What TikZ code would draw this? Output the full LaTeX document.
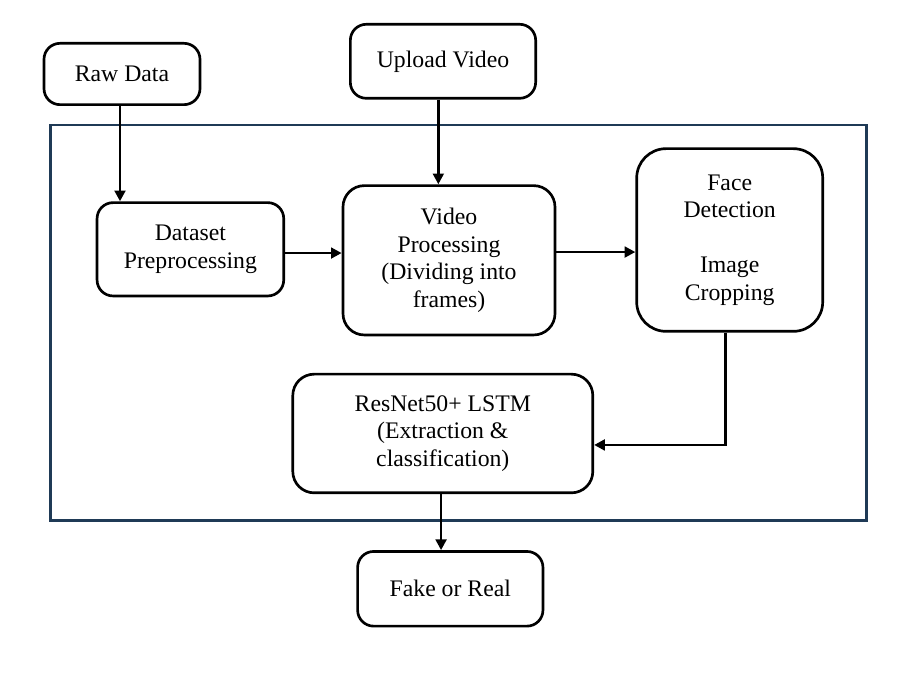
\documentclass[tikz,border=0pt]{standalone}
\usepackage{fontspec}
\setmainfont{Liberation Serif}
\usetikzlibrary{arrows.meta}
\definecolor{framecol}{HTML}{1F3A56}
\tikzset{
	blk/.style={draw,line width=2pt,rounded corners=12pt,align=center,font=\fontsize{17.8pt}{20.6pt}\selectfont,inner sep=2pt},
	arr/.style={line width=2pt,-{Triangle[length=8pt,width=8pt]}}
}
\begin{document}
\begin{tikzpicture}[x=0.75pt,y=-0.75pt]
				\useasboundingbox (0,0) rectangle (922,673);
				\draw[framecol,line width=2.2pt] (50.7,125) rectangle (866.7,520.7);
				\node[blk,minimum width=117pt,minimum height=46pt] (raw) at (122,74) {Raw Data};
				\node[blk,minimum width=139pt,minimum height=55.5pt] (upload) at (443,61.3) {Upload Video};
				\node[blk,minimum width=140pt,minimum height=70pt] (prep) at (190.4,249.3) {Dataset\\Preprocessing};
				\node[blk,minimum width=159pt,minimum height=112pt,rounded corners=16pt] (video) at (449,260.3) {Video\\Processing\\(Dividing into\\frames)};
				\node[blk,minimum width=139.5pt,minimum height=137pt,rounded corners=22pt] (face) at (729.7,240) {Face\\Detection\\[20.6pt]Image\\Cropping};
				\node[blk,minimum width=225pt,minimum height=89pt,rounded corners=16pt] (resnet) at (442.8,433.5) {ResNet50+ LSTM\\(Extraction \&\\classification)};
				\node[blk,minimum width=139pt,minimum height=56pt] (fake) at (450.3,588.8) {Fake or Real};
				\draw[arr] ([xshift=-1.5pt]raw.south) -- ([xshift=-1.5pt]raw.south |- prep.north);
				\draw[arr] ([xshift=-3.5pt]upload.south) -- ([xshift=-3.5pt]upload.south |- video.north);
				\draw[arr] ([yshift=-2.8pt]prep.east) -- ([yshift=-2.8pt]prep.east -| video.west);
				\draw[arr] ([yshift=6.2pt]video.east) -- ([yshift=6.2pt]video.east -| face.west);
				\draw[arr] ([xshift=-3pt]face.south) |- ([yshift=-8.6pt]resnet.east);
				\draw[arr] ([xshift=-1.3pt]resnet.south) -- ([xshift=-1.3pt]resnet.south |- fake.north);
			\end{tikzpicture}
\end{document}
